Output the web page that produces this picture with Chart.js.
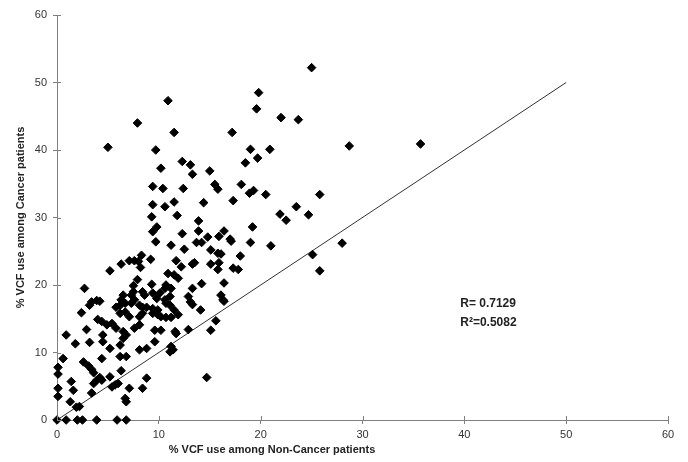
<!DOCTYPE html>
<html>
<head>
<meta charset="utf-8">
<script src="https://cdn.jsdelivr.net/npm/chart.js@4.4.1/dist/chart.umd.min.js"></script>
<style>
  html, body { margin: 0; padding: 0; background: #fff; }
  #wrap { width: 688px; height: 462px; }
</style>
</head>
<body>
<div id="wrap"><canvas id="vcfChart"></canvas></div>
<script>
// axis ticks (both axes 0..60)
var axisTicks = [0, 10, 20, 30, 40, 50, 60];

// % VCF use among non-cancer patients (x)
var nonCancer = [
  5.0, 7.9, 10.9, 11.5, 9.7, 17.2, 19.8, 19.6, 19.0, 19.7,
  20.9, 22.0, 23.7, 25.0, 28.7, 35.7, 25.8, 23.5, 21.9, 22.5,
  24.7, 21.0, 28.0, 25.1, 25.8, 14.7, 10.2, 12.3, 13.1, 13.3,
  15.0, 18.5, 9.4, 10.4, 12.4, 15.5, 15.8, 18.1, 18.9, 19.3,
  20.5, 9.4, 10.6, 11.5, 14.4, 17.3, 9.3, 11.8, 13.9, 9.8,
  9.4, 13.9, 16.4, 15.9, 19.2, 12.3, 14.8, 17.0, 9.7, 11.2,
  12.5, 13.7, 14.2, 15.1, 15.8, 16.1, 17.1, 18.0, 19.0, 11.7,
  12.2, 13.3, 13.5, 15.1, 15.9, 15.8, 17.3, 17.8, 10.9, 11.5,
  10.7, 10.6, 11.2, 11.9, 14.2, 13.3, 16.4, 11.1, 12.9, 13.1,
  13.3, 16.1, 16.3, 16.4, 14.1, 10.2, 10.7, 11.2, 11.9, 15.6,
  10.2, 11.6, 12.9, 15.1, 11.2, 11.4, 11.1, 8.3, 9.2, 7.1,
  7.6, 8.0, 6.3, 8.2, 5.2, 7.9, 7.5, 9.3, 2.7, 6.5,
  6.3, 6.7, 7.5, 7.3, 7.6, 7.3, 6.2, 5.8, 8.4, 8.6,
  9.4, 8.4, 8.8, 3.4, 3.9, 4.2, 3.2, 9.8, 10.1, 10.6,
  10.7, 11.1, 11.5, 9.9, 9.4, 8.1, 2.4, 4.0, 6.2, 6.7,
  7.1, 8.1, 8.4, 9.4, 9.9, 2.9, 4.4, 4.9, 5.4, 5.8,
  6.5, 6.8, 7.6, 8.1, 9.6, 11.7, 0.9, 1.8, 3.2, 4.5,
  4.5, 6.5, 6.2, 8.1, 8.8, 9.6, 5.2, 0.6, 2.6, 4.4,
  6.2, 6.8, 3.1, 3.4, 3.6, 0.1, 0.1, 0.1, 0.1, 1.4,
  1.6, 1.3, 1.9, 2.2, 3.4, 3.6, 3.9, 4.4, 4.2, 5.2,
  5.4, 5.7, 6.0, 6.3, 6.7, 6.8, 7.1, 8.4, 8.8, 0,
  0.9, 2.0, 2.5, 3.9, 5.9, 6.8
];

// % VCF use among cancer patients (y)
var cancer = [
  40.4, 44.0, 47.3, 42.6, 40.0, 42.6, 48.5, 46.1, 40.1, 38.8,
  40.1, 44.8, 44.5, 52.2, 40.6, 40.9, 33.4, 31.6, 30.5, 29.6,
  30.4, 25.8, 26.2, 24.5, 22.1, 6.3, 37.3, 38.3, 37.8, 36.4,
  36.9, 38.1, 34.6, 34.3, 34.3, 34.9, 34.2, 34.9, 33.6, 34.0,
  33.4, 31.9, 31.6, 32.3, 32.2, 32.5, 30.1, 30.3, 29.5, 28.6,
  27.9, 28.0, 28.0, 27.2, 28.6, 27.6, 27.1, 26.8, 26.4, 25.9,
  25.3, 26.3, 26.3, 25.2, 24.7, 24.6, 26.5, 24.3, 26.3, 23.6,
  22.7, 23.1, 23.3, 23.1, 23.3, 22.3, 22.5, 22.3, 21.7, 21.5,
  20.0, 19.5, 19.5, 21.0, 20.2, 19.5, 20.3, 18.3, 18.3, 17.5,
  17.1, 18.5, 17.8, 17.6, 16.3, 15.3, 15.2, 15.2, 15.6, 14.7,
  13.3, 13.1, 13.4, 13.3, 10.9, 10.4, 10.1, 24.4, 23.8, 23.6,
  23.6, 23.5, 23.1, 22.6, 22.1, 20.8, 19.9, 20.1, 19.5, 18.5,
  17.8, 17.3, 19.0, 18.5, 17.8, 17.3, 17.0, 16.7, 19.0, 18.5,
  18.8, 16.7, 16.7, 17.5, 17.7, 17.6, 17.0, 18.0, 18.8, 17.8,
  17.3, 17.0, 16.3, 16.3, 16.5, 17.0, 15.9, 14.9, 15.8, 16.0,
  15.3, 15.3, 15.8, 15.8, 15.6, 13.4, 14.6, 14.1, 14.3, 13.6,
  13.1, 12.6, 13.6, 14.1, 13.3, 12.8, 12.6, 11.3, 11.5, 12.6,
  11.6, 12.1, 11.1, 10.4, 10.6, 11.6, 10.6, 9.1, 8.6, 9.1,
  9.4, 9.4, 8.0, 7.5, 7.0, 7.8, 6.8, 4.7, 3.5, 5.7,
  4.4, 2.7, 1.9, 2.0, 4.0, 5.4, 5.9, 5.9, 6.3, 6.4,
  4.9, 5.2, 5.4, 7.3, 3.2, 2.7, 4.7, 4.7, 6.2, 0,
  0, 0, 0, 0, 0, 0
];

// reference line y = x
var refLineX = [0, 50];
var refLineY = [0, 50];

var statLines = ['R= 0.7129', 'R\u00b2=0.5082'];
var xTitle = '% VCF use among Non-Cancer patients';
var yTitle = '% VCF use among Cancer patients';

var fontFamily = '"Liberation Sans", Arial, Helvetica, sans-serif';

// draws the R / R^2 note, the x-axis caption and the inner half of the tick marks
var textPlugin = {
  id: 'textPlugin',
  afterDraw: function (chart) {
    var ctx = chart.ctx;
    var xs = chart.scales.x, ys = chart.scales.y;
    ctx.save();
    // tick marks cross the axis line
    ctx.strokeStyle = '#808080';
    ctx.lineWidth = 1;
    ctx.beginPath();
    axisTicks.forEach(function (v) {
      var px = Math.round(xs.getPixelForValue(v)) + 0.5;
      var py = Math.round(ys.getPixelForValue(v)) + 0.5;
      ctx.moveTo(px, ys.bottom);
      ctx.lineTo(px, ys.bottom - 4);
      ctx.moveTo(xs.left, py);
      ctx.lineTo(xs.left + 4, py);
    });
    ctx.stroke();

    ctx.fillStyle = '#222';
    ctx.font = 'bold 12px ' + fontFamily;
    ctx.textAlign = 'left';
    ctx.textBaseline = 'middle';
    ctx.fillText(statLines[0], xs.getPixelForValue(39.6), ys.getPixelForValue(17.3));
    ctx.fillText(statLines[1], xs.getPixelForValue(39.6), ys.getPixelForValue(14.4));
    ctx.font = 'bold 11px ' + fontFamily;
    ctx.textAlign = 'center';
    ctx.fillText(xTitle, 272, 450);
    ctx.restore();
  }
};

var ctx = document.getElementById('vcfChart');
new Chart(ctx, {
  data: {
    datasets: [{
      type: 'scatter',
      data: nonCancer.map(function (v, i) { return { x: v, y: cancer[i] }; }),
      pointStyle: 'rectRot',
      pointRadius: 4.3,
      pointHoverRadius: 4.3,
      backgroundColor: '#000',
      borderColor: '#000',
      borderWidth: 1,
      clip: false,
      order: 1
    }, {
      type: 'line',
      data: refLineX.map(function (v, i) { return { x: v, y: refLineY[i] }; }),
      borderColor: '#333',
      borderWidth: 1,
      pointRadius: 0,
      fill: false,
      order: 2
    }]
  },
  options: {
    responsive: true,
    maintainAspectRatio: false,
    animation: false,
    layout: { padding: { top: 15, right: 20, left: 10, bottom: 0 } },
    plugins: {
      legend: { display: false },
      tooltip: { enabled: false }
    },
    scales: {
      x: {
        type: 'linear',
        min: 0,
        max: 60,
        afterBuildTicks: function (scale) {
          scale.ticks = axisTicks.map(function (v) { return { value: v }; });
        },
        afterFit: function (scale) { scale.height = 42; },
        grid: { drawOnChartArea: false, drawTicks: true, tickLength: 4, color: '#808080' },
        border: { display: true, color: '#808080', width: 1 },
        ticks: {
          padding: 4,
          color: '#333',
          font: { family: fontFamily, size: 11 }
        }
      },
      y: {
        type: 'linear',
        min: 0,
        max: 60,
        afterBuildTicks: function (scale) {
          scale.ticks = axisTicks.map(function (v) { return { value: v }; });
        },
        afterFit: function (scale) { scale.width = 47; },
        grid: { drawOnChartArea: false, drawTicks: true, tickLength: 4, color: '#808080' },
        border: { display: true, color: '#808080', width: 1 },
        ticks: {
          padding: 6,
          color: '#333',
          font: { family: fontFamily, size: 11 }
        },
        title: {
          display: true,
          text: yTitle,
          color: '#222',
          padding: { top: 4, bottom: 0 },
          font: { family: fontFamily, size: 11, weight: 'bold' }
        }
      }
    }
  },
  plugins: [textPlugin]
});
</script>
</body>
</html>
